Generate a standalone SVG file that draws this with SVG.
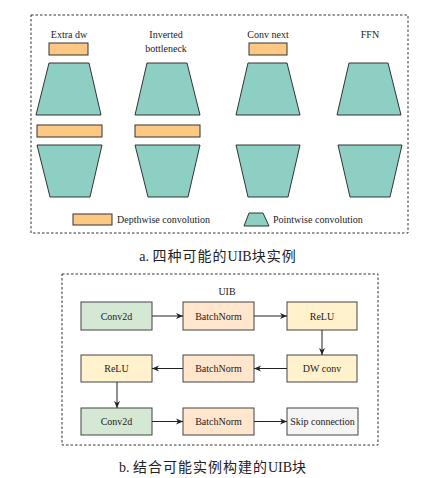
<svg xmlns="http://www.w3.org/2000/svg" width="427" height="478" viewBox="0 0 427 478">
<style>
.t{font-family:"Liberation Serif","Times New Roman",serif;font-size:10px;fill:#222;text-anchor:middle}
.cap{font-family:"Liberation Serif","Noto Sans CJK SC",serif;font-size:14px;fill:#222;text-anchor:middle}
.cj{font-family:"Noto Sans CJK SC",sans-serif;font-size:14px;letter-spacing:1px}
.dw{fill:#fdc884;stroke:#333;stroke-width:1}
.pw{fill:#8ecfc4;stroke:#333;stroke-width:1}
.box{fill:none;stroke:#333;stroke-width:1;stroke-dasharray:2.5,2}
.g{fill:#d5e8d4;stroke:#444;stroke-width:1}
.o{fill:#ffe6cc;stroke:#444;stroke-width:1}
.y{fill:#fff2cc;stroke:#444;stroke-width:1}
.w{fill:#f5f5f5;stroke:#444;stroke-width:1}
.c{fill:none;stroke:#222;stroke-width:1;marker-end:url(#ah)}
</style>
<defs>
<marker id="ah" markerWidth="8" markerHeight="8" refX="7" refY="4" orient="auto" markerUnits="userSpaceOnUse">
<path d="M0,1 L7,4 L0,7 L2,4 Z" fill="#222"/>
</marker>
</defs>
<rect width="427" height="478" fill="#fff"/>
<g id="panel-a">
<rect class="box" x="31" y="15" width="377" height="218"/>
<g id="col-extra-dw">
<text class="t" x="69" y="38">Extra dw</text>
<rect class="dw" x="49" y="43" width="39" height="12"/>
<polygon class="pw" points="49,63 89,63 101,115 36,115"/>
<rect class="dw" x="37" y="125" width="65" height="12"/>
<polygon class="pw" points="37,145 102,145 90,197 50,197"/>
</g>
<g id="col-inverted-bottleneck">
<text class="t" x="166" y="38">Inverted</text>
<text class="t" x="166" y="52">bottleneck</text>
<polygon class="pw" points="147,63 187,63 200,115 135,115"/>
<rect class="dw" x="135" y="125" width="65" height="12"/>
<polygon class="pw" points="135,145 200,145 188,197 148,197"/>
</g>
<g id="col-conv-next">
<text class="t" x="268" y="38">Conv next</text>
<rect class="dw" x="249" y="43" width="38" height="12"/>
<polygon class="pw" points="248,63 287,63 300,115 236,115"/>
<polygon class="pw" points="236,145 300,145 288,197 248,197"/>
</g>
<g id="col-ffn">
<text class="t" x="370" y="38">FFN</text>
<polygon class="pw" points="349,63 388,63 401,115 337,115"/>
<polygon class="pw" points="338,145 402,145 390,197 350,197"/>
</g>
<g id="legend">
<rect class="dw" x="73" y="214" width="39" height="11"/>
<text class="t" x="117" y="223" style="text-anchor:start">Depthwise convolution</text>
<polygon class="pw" points="249,213 263,213 269,226 244,226"/>
<text class="t" x="273" y="223" style="text-anchor:start">Pointwise convolution</text>
</g>
<text class="cap" x="218" y="261">a. <tspan class="cj">四种可能的</tspan>UIB<tspan class="cj">块实例</tspan></text>
</g>
<g id="panel-b">
<rect class="box" x="62" y="274" width="316" height="171"/>
<text class="t" x="227" y="295">UIB</text>
<g id="conv2d-1"><rect class="g" x="81" y="302" width="71" height="28"/><text class="t" x="116.5" y="319.5">Conv2d</text></g>
<g id="bn-1"><rect class="o" x="183" y="302" width="71" height="28"/><text class="t" x="218.5" y="319.5">BatchNorm</text></g>
<g id="relu-1"><rect class="y" x="287" y="302" width="70" height="28"/><text class="t" x="322" y="319.5">ReLU</text></g>
<g id="dwconv"><rect class="y" x="287" y="355" width="70" height="27"/><text class="t" x="322" y="372">DW conv</text></g>
<g id="bn-2"><rect class="o" x="183" y="355" width="71" height="27"/><text class="t" x="218.5" y="372">BatchNorm</text></g>
<g id="relu-2"><rect class="y" x="81" y="355" width="71" height="27"/><text class="t" x="116.5" y="372">ReLU</text></g>
<g id="conv2d-2"><rect class="g" x="81" y="408" width="71" height="27"/><text class="t" x="116.5" y="425">Conv2d</text></g>
<g id="bn-3"><rect class="o" x="183" y="408" width="71" height="27"/><text class="t" x="218.5" y="425">BatchNorm</text></g>
<g id="skip"><rect class="w" x="287" y="408" width="71" height="27"/><text class="t" x="322.5" y="425">Skip connection</text></g>
<g id="connectors">
<line class="c" x1="152" y1="316" x2="183" y2="316"/>
<line class="c" x1="254" y1="316" x2="287" y2="316"/>
<line class="c" x1="322" y1="330" x2="322" y2="355"/>
<line class="c" x1="287" y1="368.5" x2="254" y2="368.5"/>
<line class="c" x1="183" y1="368.5" x2="152" y2="368.5"/>
<line class="c" x1="117" y1="382" x2="117" y2="408"/>
<line class="c" x1="152" y1="421.5" x2="183" y2="421.5"/>
<line class="c" x1="254" y1="421.5" x2="287" y2="421.5"/>
</g>
<text class="cap" x="213" y="472">b. <tspan class="cj">结合可能实例构建的</tspan>UIB<tspan class="cj">块</tspan></text>
</g>
</svg>
